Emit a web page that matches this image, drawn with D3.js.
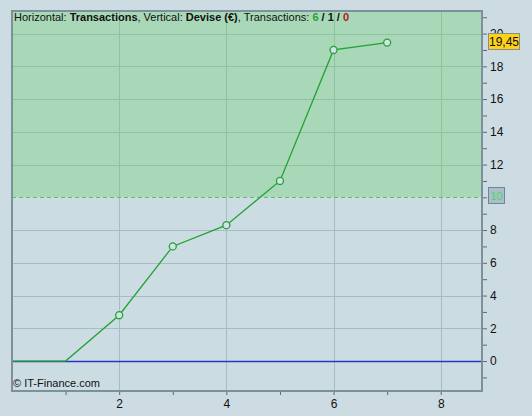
<!DOCTYPE html>
<html><head><meta charset="utf-8">
<script src="https://cdn.jsdelivr.net/npm/d3@7"></script>
<style>body{margin:0;background:#cddce3;}svg{display:block;font-family:"Liberation Sans",Arial,sans-serif;}</style>
</head><body>
<svg id="c" width="532" height="416"></svg>
<script>
const xValues = [0, 1, 2, 3, 4, 5, 6, 7];
const yValues = [0, 0, 2.8, 7.0, 8.3, 11.0, 19.0, 19.45];
const markerFrom = 2;
const xTicks = [2, 4, 6, 8];
const yTicks = [0, 2, 4, 6, 8, 10, 12, 14, 16, 18, 20];
const threshold = 10;
const lastLabel = "19,45";

const svg = d3.select("#c");
const L = 12, R = 482, T = 11, B = 391;
const x = d3.scaleLinear().domain([0, 8.77]).range([L, R]);
const y = d3.scaleLinear().domain([-1.83, 21.38]).range([B, T]);

svg.append("rect").attr("width",532).attr("height",416).attr("fill","#cddce3");
svg.append("rect").attr("x",L).attr("y",T).attr("width",R-L).attr("height",y(threshold)-T).attr("fill","#a9d8b9");
svg.append("rect").attr("x",L).attr("y",y(threshold)).attr("width",R-L).attr("height",B-y(threshold)).attr("fill","#ccdce3");

const g = svg.append("g");
yTicks.filter(v=>v!==0 && v!==threshold).forEach(v=>{
  g.append("line").attr("x1",L).attr("x2",R).attr("y1",Math.round(y(v))+0.5).attr("y2",Math.round(y(v))+0.5)
   .attr("stroke", v>threshold ? "#8fc3a0" : "#a8bac3").attr("stroke-width",1);
});
xTicks.forEach(v=>{
  const xp = Math.round(x(v))+0.5;
  g.append("line").attr("x1",xp).attr("x2",xp).attr("y1",T).attr("y2",y(threshold)).attr("stroke","#8fc3a0");
  g.append("line").attr("x1",xp).attr("x2",xp).attr("y1",y(threshold)).attr("y2",B).attr("stroke","#a8bac3");
});
svg.append("line").attr("x1",L).attr("x2",R).attr("y1",Math.round(y(threshold))+0.5).attr("y2",Math.round(y(threshold))+0.5)
  .attr("stroke","#5cbf6a").attr("stroke-dasharray","4,3");
svg.append("line").attr("x1",L).attr("x2",R).attr("y1",Math.round(y(0))+0.5).attr("y2",Math.round(y(0))+0.5)
  .attr("stroke","#2536c4").attr("stroke-width",1.5);

const line = d3.line().x((d,i)=>x(xValues[i])).y(d=>y(d));
svg.append("path").datum(yValues).attr("d",line).attr("fill","none").attr("stroke","#22a233").attr("stroke-width",1.3);
svg.selectAll("circle.p").data(yValues.slice(markerFrom)).enter().append("circle")
  .attr("cx",(d,i)=>x(xValues[i+markerFrom])).attr("cy",d=>y(d)).attr("r",3.5)
  .attr("fill","#d3e2e6").attr("stroke","#22a233").attr("stroke-width",1.3);

svg.append("rect").attr("x",L).attr("y",T).attr("width",R-L).attr("height",B-T)
  .attr("fill","none").attr("stroke","#7d919a").attr("stroke-width",2);

const ya = svg.append("g").attr("transform",`translate(${R+1},0)`)
  .call(d3.axisRight(y).tickValues(d3.range(-1, 22, 1)).tickSize(4).tickFormat(v => (v%2===0 && v!==threshold) ? v : ""));
ya.select(".domain").remove();
ya.selectAll(".tick line").attr("stroke","#5a6a72");
ya.selectAll(".tick text").attr("font-size",12).attr("fill","#111").attr("x",7).attr("font-family","'Liberation Sans',Arial,sans-serif");

const xa = svg.append("g").attr("transform",`translate(0,${B+1})`)
  .call(d3.axisBottom(x).tickValues(d3.range(1, 9, 1)).tickSize(3).tickFormat(v => v%2===0 ? v : ""));
xa.select(".domain").remove();
xa.selectAll(".tick line").attr("stroke","#5a6a72");
xa.selectAll(".tick text").attr("font-size",12).attr("fill","#111").attr("y",7).attr("font-family","'Liberation Sans',Arial,sans-serif");

const ty = y(threshold);
svg.append("rect").attr("x",488.5).attr("y",Math.round(ty)-9.5).attr("width",16).attr("height",16)
  .attr("fill","#a9c0cc").attr("stroke","#6f8793");
svg.append("text").attr("x",496.5).attr("y",Math.round(ty)+3).attr("text-anchor","middle").attr("font-size",11).attr("fill","#4fd35f").text(threshold);

const ly = y(yValues[yValues.length-1]);
svg.append("rect").attr("x",488.5).attr("y",Math.round(ly)-9.5).attr("width",31).attr("height",16)
  .attr("fill","#ffd21a").attr("stroke","#8c8c8c");
svg.append("text").attr("x",504).attr("y",Math.round(ly)+3).attr("text-anchor","middle").attr("font-size",12).attr("fill","#111").text(lastLabel);

const h = svg.append("text").attr("x",14).attr("y",21).attr("font-size",11).attr("fill","#111");
h.append("tspan").text("Horizontal: ");
h.append("tspan").attr("font-weight","bold").text("Transactions");
h.append("tspan").text(", Vertical: ");
h.append("tspan").attr("font-weight","bold").text("Devise (€)");
h.append("tspan").text(", Transactions: ");
h.append("tspan").attr("font-weight","bold").attr("fill","#2e9e2e").text("6");
h.append("tspan").attr("font-weight","bold").text(" / ");
h.append("tspan").attr("font-weight","bold").text("1");
h.append("tspan").attr("font-weight","bold").text(" / ");
h.append("tspan").attr("font-weight","bold").attr("fill","#b01818").text("0");

svg.append("text").attr("x",13).attr("y",387).attr("font-size",11).attr("fill","#111").text("© IT-Finance.com");
</script>
</body></html>
